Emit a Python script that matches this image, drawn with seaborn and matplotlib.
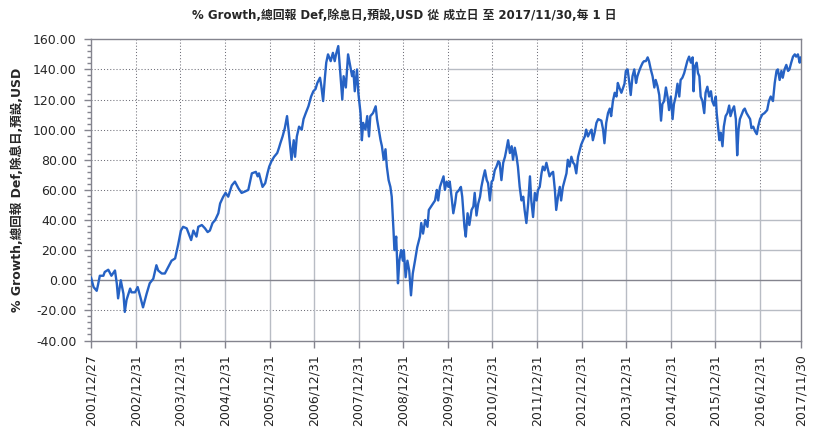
import numpy as np
import pandas as pd
import matplotlib
matplotlib.use("Agg")
import matplotlib.pyplot as plt
from matplotlib.ticker import MultipleLocator
import seaborn as sns

# values (decimal year, % growth)
years = [
    2001.99, 2002.05, 2002.12, 2002.15, 2002.19, 2002.27, 2002.30, 2002.38, 2002.45, 2002.53,
    2002.57, 2002.60, 2002.66, 2002.72, 2002.75, 2002.79, 2002.87, 2002.90, 2002.98, 2003.04,
    2003.09, 2003.16, 2003.24, 2003.31, 2003.39, 2003.46, 2003.50, 2003.58, 2003.65, 2003.73,
    2003.80, 2003.88, 2003.95, 2004.01, 2004.06, 2004.14, 2004.24, 2004.29, 2004.36, 2004.40,
    2004.48, 2004.55, 2004.61, 2004.66, 2004.72, 2004.78, 2004.85, 2004.89, 2004.96, 2005.01,
    2005.07, 2005.15, 2005.22, 2005.30, 2005.37, 2005.45, 2005.52, 2005.60,
    2005.69, 2005.73, 2005.76, 2005.84, 2005.90, 2005.95, 2005.99, 2006.04, 2006.10, 2006.17,
    2006.21, 2006.24, 2006.29, 2006.34, 2006.39, 2006.43, 2006.49, 2006.54, 2006.57, 2006.61,
    2006.66, 2006.72, 2006.76, 2006.81, 2006.87, 2006.93, 2006.98, 2007.03, 2007.07, 2007.13,
    2007.16, 2007.20, 2007.24, 2007.27, 2007.31, 2007.37, 2007.42, 2007.46, 2007.49, 2007.54,
    2007.59, 2007.63, 2007.66, 2007.71, 2007.76, 2007.81, 2007.85, 2007.88, 2007.91, 2007.96,
    2007.99, 2008.04, 2008.07, 2008.10, 2008.15, 2008.19, 2008.23, 2008.26, 2008.32, 2008.38,
    2008.41, 2008.45, 2008.49, 2008.52, 2008.56, 2008.60, 2008.63, 2008.67, 2008.71, 2008.74,
    2008.78, 2008.80, 2008.84, 2008.88, 2008.91, 2008.95, 2008.99, 2009.01, 2009.05, 2009.09,
    2009.13, 2009.17, 2009.21, 2009.26, 2009.31, 2009.37, 2009.40, 2009.44, 2009.49, 2009.54,
    2009.57,
    2009.71, 2009.75, 2009.78, 2009.82, 2009.86, 2009.90, 2009.93, 2009.97, 2010.01, 2010.04,
    2010.08, 2010.12, 2010.16, 2010.19, 2010.25, 2010.29, 2010.32, 2010.37, 2010.40, 2010.44,
    2010.48, 2010.53, 2010.57, 2010.60, 2010.64, 2010.68, 2010.72, 2010.75, 2010.79, 2010.83,
    2010.87, 2010.90, 2010.94, 2010.98, 2011.01, 2011.05, 2011.09, 2011.13, 2011.16, 2011.20,
    2011.24, 2011.28, 2011.31, 2011.35, 2011.39, 2011.43, 2011.46, 2011.50, 2011.54, 2011.57,
    2011.61, 2011.65, 2011.69, 2011.72, 2011.76, 2011.80, 2011.84, 2011.87, 2011.91, 2011.95,
    2011.99, 2012.02, 2012.06, 2012.10, 2012.13, 2012.17, 2012.21, 2012.25, 2012.28, 2012.32,
    2012.36, 2012.40, 2012.43, 2012.47, 2012.51, 2012.54, 2012.58, 2012.62, 2012.66, 2012.69,
    2012.73, 2012.77, 2012.81, 2012.84, 2012.88, 2012.92, 2012.96, 2012.99, 2013.03, 2013.07,
    2013.10, 2013.14, 2013.18, 2013.22, 2013.25, 2013.29, 2013.33, 2013.37, 2013.44, 2013.48,
    2013.51, 2013.55, 2013.59, 2013.63, 2013.66, 2013.70, 2013.74, 2013.78, 2013.81, 2013.85,
    2013.89,
    2013.92, 2013.96, 2013.99, 2014.03, 2014.07, 2014.10, 2014.14, 2014.18, 2014.22, 2014.25,
    2014.29, 2014.33, 2014.37, 2014.40, 2014.44, 2014.48, 2014.51, 2014.55, 2014.59, 2014.63,
    2014.66, 2014.70, 2014.74, 2014.78, 2014.81, 2014.85, 2014.89, 2014.93, 2014.96, 2015.00,
    2015.04, 2015.07, 2015.11, 2015.15, 2015.19, 2015.22, 2015.26, 2015.30, 2015.34, 2015.37,
    2015.41, 2015.45, 2015.49, 2015.51, 2015.54, 2015.58, 2015.61, 2015.64, 2015.67, 2015.71,
    2015.75, 2015.78, 2015.82, 2015.86, 2015.90, 2015.93, 2015.97, 2016.01, 2016.03, 2016.06,
    2016.09, 2016.12, 2016.16, 2016.19, 2016.23, 2016.27, 2016.31, 2016.34, 2016.38, 2016.42,
    2016.46, 2016.49, 2016.52, 2016.55, 2016.59, 2016.63, 2016.66, 2016.70, 2016.74, 2016.78,
    2016.81, 2016.85, 2016.89, 2016.93, 2016.96, 2017.00, 2017.05, 2017.10, 2017.16, 2017.20,
    2017.24, 2017.29, 2017.33, 2017.37, 2017.40, 2017.44, 2017.48, 2017.51, 2017.55, 2017.59,
    2017.63, 2017.66, 2017.70, 2017.74, 2017.78, 2017.81, 2017.85, 2017.89, 2017.91,
]
growth = [
    2, -4.5, -7, -3, 3, 3, 5.5, 7, 3, 6.5,
    -2, -12, 0, -9, -21, -13, -5.5, -8, -8, -4.5,
    -10, -18, -9, -2, 1, 10, 6.5, 4.5, 4.5, 9,
    13, 14.5, 24, 33, 35.5, 34.5, 26.7, 33, 29, 35.5,
    36.7, 34.5, 32, 33, 38, 40, 44.5, 51, 55.5, 58,
    55.5, 63, 65.5, 61, 58, 59, 60, 71,
    72, 69, 71, 62, 64.5, 71, 75.5, 79, 82, 84.5,
    88, 91, 95.5, 101, 109, 98, 80, 93, 82, 95.5,
    102, 100, 107, 111, 115.5, 122, 125.5, 127, 131, 134.5,
    129, 119, 134.5, 144.5, 150, 145.5, 151, 145.5, 150, 155.5,
    135.5, 120, 135.5, 128, 150, 142, 135.5, 139, 125.5, 140,
    124.5, 111, 93, 104.5, 100, 109, 95.5, 109, 111, 115.5,
    107, 100, 93, 89, 80, 87, 75.5, 66.5, 62, 55.5,
    33, 20, 29, -2, 13, 20, 13, 20, 2, 13,
    6.5, -10, 4.5, 13, 22, 29, 38, 31, 40, 35.5,
    46.7,
    53, 60, 53, 62, 65.5, 69, 60, 65.5, 62, 65.5,
    55.5, 44.5, 51, 58, 60, 62, 55.5, 35.5, 29, 44.5,
    36.7, 46.7, 49, 58, 43, 51, 55.5, 62, 68, 73,
    66.5, 64.5, 53, 65.5, 66.5, 73, 75.5, 79, 78, 66.5,
    78, 82, 86.5, 93, 84.5, 89, 80, 88, 82, 75.5,
    62, 53, 55.5, 46.7, 38, 51, 69, 53, 42, 58,
    53, 60, 62, 71, 75.5, 73, 78, 73, 69, 71,
    72, 60, 46.7, 55.5, 62, 53, 62, 66.5, 71, 80,
    75.5, 82, 78, 77, 71, 82, 86.5, 90, 93, 95.5,
    100, 95.5, 98, 100, 93, 98, 104.5, 107, 106, 100,
    91, 104.5, 111, 114, 109, 119, 124.5, 122, 131, 127.5,
    124.5,
    127, 130.5, 139, 140, 131, 123, 135.5, 140, 131, 135.5,
    139, 142, 144.5, 145.5, 145.5, 148, 145.5, 140, 135.5, 128,
    133, 129, 123, 106, 117, 119, 128, 121, 113, 122,
    107, 117, 122, 130.5, 122, 133, 134.5, 137.5, 142, 145.5,
    148.5, 144.5, 148, 125.5, 142, 144.5, 137.5, 135.5, 122, 119,
    111, 124.5, 128.5, 122, 125.5, 119, 116, 122, 111, 102,
    93, 98, 89, 102, 109, 111, 116, 109, 113, 115.5,
    107, 83, 100, 107, 110, 113, 114, 111, 109, 107,
    101, 102, 99, 97, 102, 107, 110, 111, 113, 119,
    122, 119, 131, 139, 140, 133, 139, 134.5, 140, 143,
    139, 140, 144.5, 148.5, 150, 148.5, 150, 144.5, 148,
]

tick_dates = [
    "2001/12/27", "2002/12/31", "2003/12/31", "2004/12/31", "2005/12/31",
    "2006/12/31", "2007/12/31", "2008/12/31", "2009/12/31", "2010/12/31",
    "2011/12/31", "2012/12/31", "2013/12/31", "2014/12/31", "2015/12/31",
    "2016/12/31", "2017/11/30",
]
y_ticks = [-40, -20, 0, 20, 40, 60, 80, 100, 120, 140, 160]

title = "% Growth,總回報 Def,除息日,預設,USD 從 成立日 至 2017/11/30,每 1 日"
ylabel = "% Growth,總回報 Def,除息日,預設,USD"


def year_to_date(y):
    base = pd.Timestamp(int(y), 1, 1)
    return base + pd.Timedelta(days=(y - int(y)) * 365.25)


df = pd.DataFrame({"date": [year_to_date(y) for y in years], "growth": growth})
ticks = pd.to_datetime(tick_dates, format="%Y/%m/%d")

sns.set_style("white")
plt.rcParams["font.family"] = ["DejaVu Sans", "Noto Sans CJK TC"]

fig = plt.figure(figsize=(8.16, 4.30), dpi=100)
ax = fig.add_axes([0.1112, 0.2081, 0.870, 0.7005])

dot_col = "#6e6e78"
solid_col = "#b8bcc4"
dotted = (0, (1, 2))

# horizontal grid: dotted before 2009/12/31, solid after
split_x = ticks[tick_dates.index("2009/12/31")]
for v in y_ticks[1:-1]:
    if v == 0:
        continue
    ax.hlines(v, ticks[0], split_x, colors=dot_col, linestyles=dotted, lw=0.75, zorder=1)
    ax.hlines(v, split_x, ticks[-1], colors=solid_col, lw=1, zorder=1)
# vertical grid: solid below 60, dotted above
for t in ticks[1:-1]:
    ax.vlines(t, y_ticks[0], 60, colors=solid_col, lw=1, zorder=1)
    ax.vlines(t, 60, y_ticks[-1], colors=dot_col, linestyles=dotted, lw=0.75, zorder=1)
ax.axhline(0, color="#84848e", lw=1, zorder=1)

sns.lineplot(data=df, x="date", y="growth", ax=ax, color="#2662c4", lw=1.7,
             sort=False, zorder=3)

ax.set_xlim(ticks[0], ticks[-1])
ax.set_ylim(y_ticks[0], y_ticks[-1])
ax.set_xticks(ticks)
ax.set_xticklabels(tick_dates, rotation=90, fontsize=9, color="#222222")
ax.set_yticks(y_ticks)
ax.set_yticklabels([f"{v:.2f}" for v in y_ticks], fontsize=9)
ax.yaxis.set_minor_locator(MultipleLocator(4))
ax.tick_params(axis="y", which="major", left=True, length=5, width=1,
               color="#84848e", pad=5)
ax.tick_params(axis="y", which="minor", left=True, length=3, width=1,
               color="#84848e")
ax.tick_params(axis="x", which="major", bottom=True, length=5, width=1,
               color="#84848e", pad=5)
ax.tick_params(axis="x", which="minor", bottom=False)

for s in ax.spines.values():
    s.set_color("#84848e")
    s.set_linewidth(1)

ax.set_xlabel("")
ax.set_ylabel(ylabel, fontsize=9, fontweight="bold")
ax.yaxis.set_label_coords(-0.094, 0.5)

fig.text(0.495, 1 - 15.5 / 430, title, ha="center", va="center",
         fontsize=8.5, fontweight="bold")

fig.savefig("out.png", dpi=100)
